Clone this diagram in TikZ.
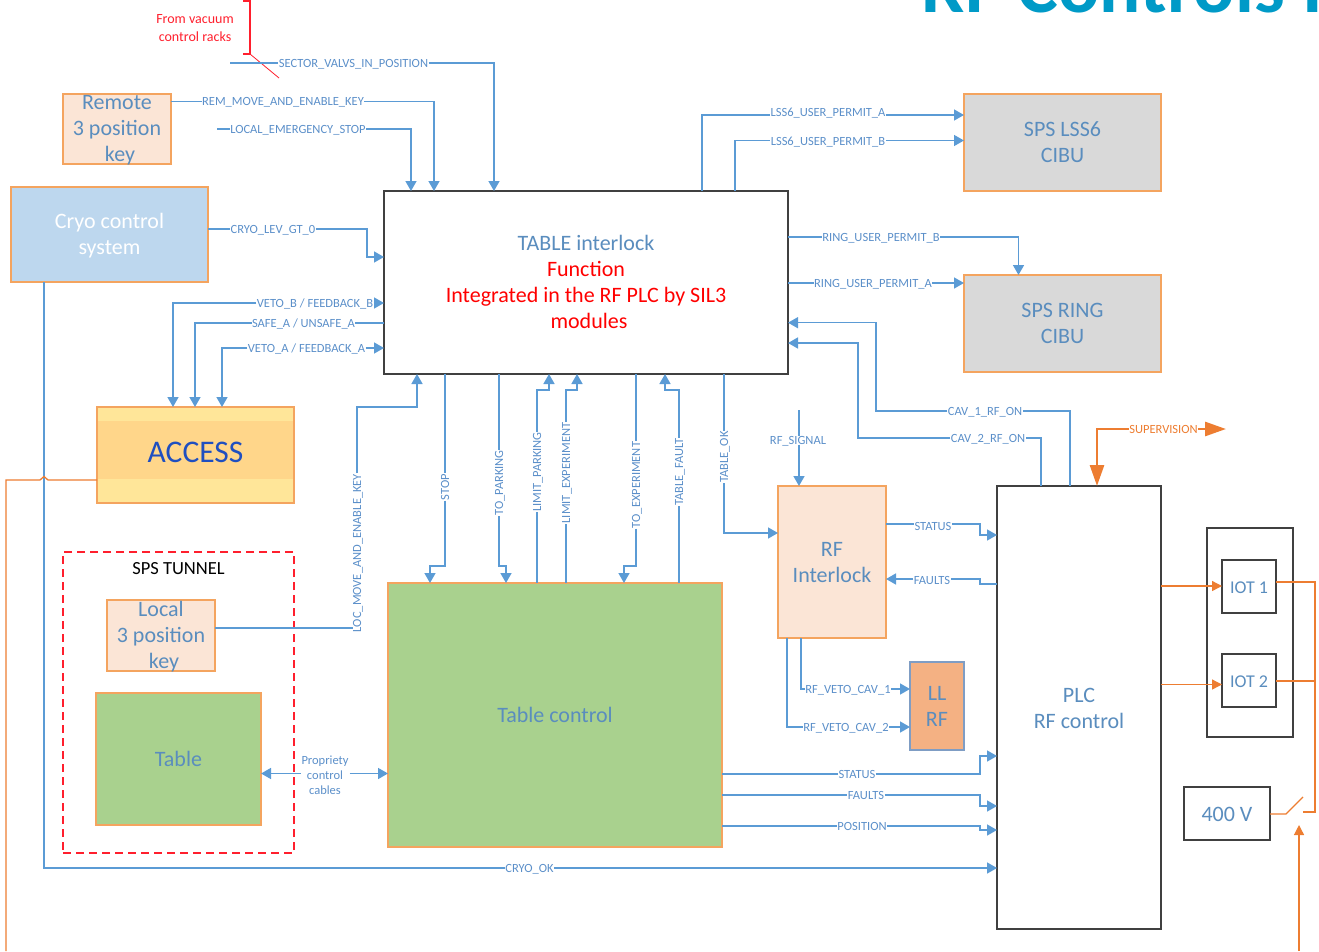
\documentclass[tikz,border=0pt]{standalone}
\usepackage{fontspec}
\setmainfont{Carlito}
\usetikzlibrary{arrows.meta}
\definecolor{wireblue}{HTML}{5B9BD5}
\definecolor{labelblue}{HTML}{5B8FC9}
\definecolor{boxtext}{HTML}{5A8DBE}
\definecolor{orangeedge}{HTML}{F4A45F}
\definecolor{orangeline}{HTML}{ED7D31}
\definecolor{peach}{HTML}{FBE5D6}
\definecolor{skyfill}{HTML}{BDD7EE}
\definecolor{greyfill}{HTML}{D9D9D9}
\definecolor{greenfill}{HTML}{A9D18E}
\definecolor{llfill}{HTML}{F4B183}
\definecolor{llredge}{HTML}{7F9DC4}
\definecolor{accesspale}{HTML}{FFE699}
\definecolor{accessband}{HTML}{FFD68A}
\definecolor{accesstext}{HTML}{1F4FC0}
\definecolor{darkedge}{HTML}{404040}
\definecolor{titleblue}{HTML}{009AC7}
\definecolor{redline}{HTML}{FF1F2D}
\newcommand\lowr[1]{\rule{0pt}{#1}}
\tikzset{
  boxbase/.style={anchor=north west,inner sep=0pt,outer sep=0pt,align=center,
    font=\fontsize{22}{26}\selectfont,text=boxtext,line width=1.2pt},
  orangebox/.style={boxbase,draw=orangeedge},
  darkbox/.style={boxbase,draw=darkedge,fill=white},
  size/.style n args={2}{minimum width=#1 pt,minimum height=#2 pt},
  bigtext/.style={align=center,inner sep=0pt,font=\fontsize{22}{26}\selectfont,text=boxtext},
  lbl/.style={inner sep=0.5pt,outer sep=0pt,text=labelblue,text height=8pt,text depth=0pt,font=\fontsize{12.5}{14}\selectfont},
  vlbl/.style={lbl,rotate=90},
  wire/.style={draw=wireblue,line width=1.5pt},
  arr/.style={wire,-{Triangle[length=10pt,width=11pt]}},
  oline/.style={draw=orangeline,line width=1.3pt},
  oarr/.style={oline,-{Triangle[length=10pt,width=10pt]}},
  sup/.style={draw=orangeline,line width=2.7pt},
  suparr/.style={sup,-{Triangle[length=21pt,width=14pt]}},
}
\begin{document}
\begin{tikzpicture}[x=1pt,y=-1pt]
\useasboundingbox (0,0) rectangle (1319,951);
\clip (0,0) rectangle (1319,951);
% title
\node[anchor=base west,inner sep=0pt,text=titleblue,font=\fontsize{77}{84}\selectfont\bfseries] (title) at (921.5,12) {RF Controls I};
% boxes
\node[orangebox,fill=peach,size={108}{70}] (rem) at (63,94) {};
\node[bigtext] (remtext) at (117,130.5) {Remote\\3 position\\\hspace*{6pt}key};
\node[orangebox,fill=skyfill,size={197}{95},text=white] (cryo) at (11,187) {\lowr{18pt}Cryo control\\system};
\node[darkbox,size={404}{183}] (tif) at (384,191) {};
\node[bigtext] (tifa) at (586,256) {TABLE interlock\\[0pt]\textcolor{red}{Function}};
\node[bigtext,text=red] (tifb) at (586,308) {Integrated in the RF PLC by SIL3\\\hspace*{6pt}modules};
\node[orangebox,fill=greyfill,size={197}{97}] (lss) at (964,94) {SPS LSS6\\CIBU};
\node[orangebox,fill=greyfill,size={197}{97}] (ring) at (964,275) {SPS RING\\CIBU};
\fill[accesspale] (97,407) rectangle (294,503);
\fill[accessband] (97,421) rectangle (294,479);
\node[orangebox,size={197}{96},text=accesstext,font=\fontsize{31.5}{36}\selectfont] (access) at (97,407) {\rule[-6pt]{0pt}{1pt}ACCESS};
\node[boxbase,draw=redline,dash pattern=on 8pt off 5pt,size={231}{301}] (tunnel) at (63,552) {};
\node[inner sep=0pt,text=black,font=\fontsize{18.5}{20}\selectfont] (tunnellabel) at (178.5,568.5) {SPS TUNNEL};
\node[orangebox,fill=peach,size={108}{71}] (local) at (107,600) {};
\node[bigtext] (localtext) at (161,637) {Local\\3 position\\\hspace*{6pt}key};
\node[orangebox,fill=greenfill,size={165}{132}] (table) at (96,693) {Table};
\node[orangebox,fill=greenfill,size={334}{264}] (tctl) at (388,583) {Table control};
\node[orangebox,fill=peach,size={108}{152}] (rfi) at (778,486) {\lowr{16pt}RF\\Interlock};
\node[boxbase,draw=llredge,fill=llfill,size={54}{88}] (ll) at (910,662) {\lowr{15pt}LL\\RF};
\node[darkbox,size={164}{443}] (plc) at (997,486) {\lowr{16pt}PLC\\RF control};
\node[boxbase,draw=darkedge,size={86}{209}] (iotbox) at (1207,528) {};
\node[darkbox,size={54}{53},font=\fontsize{18}{22}\selectfont] (iot1) at (1222,560) {\lowr{14pt}IOT 1};
\node[darkbox,size={54}{53},font=\fontsize{18}{22}\selectfont] (iot2) at (1222,654) {\lowr{14pt}IOT 2};
\node[darkbox,size={86}{53}] (v400) at (1184,787) {\lowr{17pt}400 V};
% free ends
\coordinate (secStart) at (230,63);
\coordinate (locStart) at (217,129);
\coordinate (rfsStart) at (799,410);
\coordinate (supEnd) at (1226,429);
\coordinate (accessDown) at (6,951);
\coordinate (mainsUp) at (1299,951);
\coordinate (switchTip) at (1303,797);
\coordinate (switchHinge) at (1286,814);
\coordinate (switchContact) at (1303,812);
\coordinate (arrowTop) at (1299,825);
\coordinate (busTop) at (1315,582);
\coordinate (redTop) at (243,1);
\coordinate (redFoot) at (243,54);
\coordinate (redKnee) at (250,54);
\coordinate (redEnd) at (279,78);
% red annotation
\node[align=center,inner sep=0pt,text=redline,font=\fontsize{14}{18.5}\selectfont] (fromvac) at (195,28) {From vacuum\\control racks};
\draw[draw=redline,line width=1.2pt] (redTop) -| (redKnee) -- (redFoot);
\draw[draw=redline,line width=0.8pt] (redKnee) -- (redEnd);
% labels
\node[lbl] (lSec) at (353.5,63) {SECTOR\_VALVS\_IN\_POSITION};
\node[lbl] (lRem) at (283,101.5) {REM\_MOVE\_AND\_ENABLE\_KEY};
\node[lbl] (lLoc) at (298,129) {LOCAL\_EMERGENCY\_STOP};
\node[lbl] (lCryo) at (273,229) {CRYO\_LEV\_GT\_0};
\node[lbl] (lVb) at (315,303) {VETO\_B / FEEDBACK\_B};
\node[lbl] (lSafe) at (303.5,323) {SAFE\_A / UNSAFE\_A};
\node[lbl] (lVa) at (306.5,348) {VETO\_A / FEEDBACK\_A};
\node[vlbl] (lLme) at (357,553) {LOC\_MOVE\_AND\_ENABLE\_KEY};
\node[vlbl] (lStop) at (445,487) {STOP};
\node[vlbl] (lTp) at (499,483) {TO\_PARKING};
\node[vlbl] (lLp) at (537,472) {LIMIT\_PARKING};
\node[vlbl] (lLe) at (566,473) {LIMIT\_EXPERIMENT};
\node[vlbl] (lTe) at (636,485) {TO\_EXPERIMENT};
\node[vlbl] (lTf) at (679,472) {TABLE\_FAULT};
\node[vlbl] (lTok) at (724,457) {TABLE\_OK};
\node[lbl] (lLa) at (828,112) {LSS6\_USER\_PERMIT\_A};
\node[lbl] (lLb) at (828,141) {LSS6\_USER\_PERMIT\_B};
\node[lbl] (lRb) at (881,237) {RING\_USER\_PERMIT\_B};
\node[lbl] (lRa) at (873,283) {RING\_USER\_PERMIT\_A};
\node[lbl] (lC1) at (985,411) {CAV\_1\_RF\_ON};
\node[lbl] (lC2) at (988,438) {CAV\_2\_RF\_ON};
\node[lbl] (lRfs) at (798,440) {RF\_SIGNAL};
\node[lbl] (lSt1) at (933,526) {STATUS};
\node[lbl] (lFa1) at (932,580) {FAULTS};
\node[lbl] (lV1) at (848,689) {RF\_VETO\_CAV\_1};
\node[lbl] (lV2) at (846,727) {RF\_VETO\_CAV\_2};
\node[lbl] (lSt2) at (857,774) {STATUS};
\node[lbl] (lFa2) at (866,795) {FAULTS};
\node[lbl] (lPos) at (862,826) {POSITION};
\node[lbl] (lCok) at (529.5,868) {CRYO\_OK};
\node[inner sep=1pt,outer sep=0pt,text=labelblue,align=center,font=\fontsize{12.5}{15}\selectfont] (lProp) at (325,775) {Propriety\\control\\cables};
\node[inner sep=0.5pt,text=orangeline,text height=8pt,text depth=0pt,font=\fontsize{12.5}{14}\selectfont] (lSup) at (1163.5,429) {SUPERVISION};
% top inputs
\draw[wire] (secStart) -- (lSec.west);
\draw[arr] (lSec.east) -| (tif.north -| 494,0);
\draw[wire] (rem.east |- lRem.west) -- (lRem.west);
\draw[arr] (lRem.east) -| (tif.north -| 434,0);
\draw[wire] (locStart) -- (lLoc.west);
\draw[arr] (lLoc.east) -| (tif.north -| 411,0);
\draw[wire] (cryo.east |- lCryo.west) -- (lCryo.west);
\draw[arr] (lCryo.east) -- (367,229) |- (tif.west |- 0,257);
% access links
\draw[arr] (lVb.east) -- (tif.west |- lVb.east);
\draw[arr] (lVb.west) -| (access.north -| 173,0);
\draw[wire] (lSafe.east) -- (tif.west |- lSafe.east);
\draw[arr] (lSafe.west) -| (access.north -| 195,0);
\draw[arr] (lVa.east) -- (tif.west |- lVa.east);
\draw[arr] (lVa.west) -| (access.north -| 222,0);
% local key
\draw[wire] (local.east |- 0,628) -- (lLme.north |- 0,628);
\draw[arr] (lLme.east) -- (357,407) -| (tif.south -| 417,0);
% table interlock to table control
\draw[wire] (tif.south -| lStop.east) -- (lStop.east);
\draw[arr] (lStop.west) -- (445,566) -| (tctl.north -| 430,0);
\draw[wire] (tif.south -| lTp.east) -- (lTp.east);
\draw[arr] (lTp.west) -- (499,566) -| (tctl.north -| 506,0);
\draw[wire] (tctl.north -| lLp.west) -- (lLp.west);
\draw[arr] (lLp.east) -- (537,390) -| (tif.south -| 549,0);
\draw[wire] (tctl.north -| lLe.west) -- (lLe.west);
\draw[arr] (lLe.east) -- (566,390) -| (tif.south -| 577,0);
\draw[wire] (tif.south -| lTe.east) -- (lTe.east);
\draw[arr] (lTe.west) -- (636,566) -| (tctl.north -| 624,0);
\draw[wire] (tctl.north -| lTf.west) -- (lTf.west);
\draw[arr] (lTf.east) -- (679,390) -| (tif.south -| 665,0);
\draw[wire] (tif.south -| lTok.east) -- (lTok.east);
\draw[arr] (lTok.west) |- (rfi.west |- 0,533);
% outputs to CIBU
\draw[wire] (tif.north -| 702,0) |- (lLa.west |- 0,115);
\draw[arr] (lLa.east |- 0,115) -- (lss.west |- 0,115);
\draw[wire] (tif.north -| 735,0) |- (lLb.west |- 0,140.5);
\draw[arr] (lLb.east |- 0,140.5) -- (lss.west |- 0,140.5);
\draw[wire] (tif.east |- lRb.west) -- (lRb.west);
\draw[arr] (lRb.east) -| (ring.north -| 1018.5,0);
\draw[wire] (tif.east |- lRa.west) -- (lRa.west);
\draw[arr] (lRa.east) -- (ring.west |- lRa.east);
% cavities
\draw[wire] (plc.north -| 1070,0) |- (lC1.east);
\draw[arr] (lC1.west) -- (876,411) |- (tif.east |- 0,322.7);
\draw[wire] (plc.north -| 1041,0) |- (lC2.east);
\draw[arr] (lC2.west) -- (858,438) |- (tif.east |- 0,343);
% RF interlock
\draw[wire] (rfsStart) -- (lRfs.north -| rfsStart);
\draw[arr] (lRfs.south -| rfsStart) -- (rfi.north -| rfsStart);
\draw[wire] (rfi.east |- 0,524) -- (lSt1.west |- 0,524);
\draw[arr] (lSt1.east |- 0,524) -- (980,524) -- (980,535) -- (plc.west |- 0,535);
\draw[wire] (plc.west |- 0,584) -- (980,584) -- (980,579) -- (lFa1.east |- 0,579);
\draw[arr] (lFa1.west |- 0,579) -- (rfi.east |- 0,579);
\draw[wire] (rfi.south -| 801,0) |- (lV1.west);
\draw[arr] (lV1.east) -- (ll.west |- lV1.east);
\draw[wire] (rfi.south -| 787,0) |- (lV2.west);
\draw[arr] (lV2.east) -- (ll.west |- lV2.east);
% table control to PLC
\draw[wire] (tctl.east |- lSt2.west) -- (lSt2.west);
\draw[arr] (lSt2.east) -- (980,774) |- (plc.west |- 0,756);
\draw[wire] (tctl.east |- lFa2.west) -- (lFa2.west);
\draw[arr] (lFa2.east) -- (980,795) |- (plc.west |- 0,806);
\draw[wire] (tctl.east |- lPos.west) -- (lPos.west);
\draw[arr] (lPos.east) -- (980,826) |- (plc.west |- 0,830);
% cryo ok
\draw[wire] (cryo.south -| 44,0) |- (lCok.west);
\draw[arr] (lCok.east) -- (plc.west |- lCok.east);
% proprietary cables
\draw[wire,{Triangle[length=10pt,width=11pt]}-] (table.east |- 0,773.5) -- (lProp.west |- 0,773.5);
\draw[arr] (lProp.east |- 0,773.5) -- (tctl.west |- 0,773.5);
% access to the left
\draw[oline] (access.west |- 0,480) -- (48,480) .. controls (46,480) and (46,476.5) .. (44,476.5) .. controls (42,476.5) and (42,480) .. (40,480) -- (6,480) -- (accessDown);
% supervision
\draw[suparr] (lSup.west) -- (1097,429) -- (plc.north -| 1097,0);
\draw[suparr] (lSup.east) -- (supEnd);
% IOTs
\draw[oarr] (plc.east |- 0,586) -- (iot1.west |- 0,586);
\draw[oarr] (plc.east |- 0,684.5) -- (iot2.west |- 0,684.5);
\draw[oline] (iot1.east |- busTop) -- (busTop) |- (switchContact);
\draw[oline] (iot2.east |- 0,681) -- (busTop |- 0,681);
\draw[oline] (v400.east |- switchHinge) -- (switchHinge) -- (switchTip);
\draw[oarr] (mainsUp) -- (arrowTop);
\end{tikzpicture}
\end{document}
